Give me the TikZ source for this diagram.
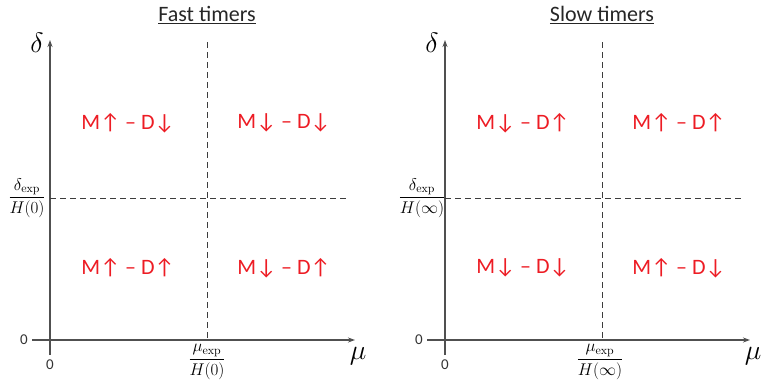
\RequirePackage{fix-cm}
\documentclass[tikz,border=0pt]{standalone}
\usepackage[no-math]{fontspec}
\setmainfont{Carlito}
\usetikzlibrary{arrows.meta}

\definecolor{axisgray}{RGB}{80,80,80}
\definecolor{guidegray}{RGB}{60,60,60}
\definecolor{zonered}{RGB}{237,28,36}

\tikzset{
  axis/.style={draw=axisgray, line width=1.2pt},
  axisarrow/.style={axis, -{Stealth[length=7pt,width=5pt]}},
  guide/.style={draw=guidegray, line width=0.9pt, dash pattern=on 6pt off 4pt},
  zone/.style={text=zonered, font=\fontsize{22}{26}\selectfont},
  ticklabel/.style={text=black!80, font=\fontsize{15}{18}\selectfont},
  fraclabel/.style={font=\fontsize{17}{20}\selectfont, inner sep=0pt},
  axislabel/.style={font=\fontsize{28}{32}\selectfont, inner sep=1pt},
  paneltitle/.style={text=black!85, font=\fontsize{22}{26}\selectfont}
}

\begin{document}
\begin{tikzpicture}[x=1pt, y=-1pt]
\useasboundingbox (0,0) rectangle (764,386);

% --- FAST TIMERS ---
  % axes
  \coordinate (f-yb) at (50,355);
  \coordinate (f-ytop) at (50,40);
  \coordinate (f-xl) at (32,340);
  \coordinate (f-xr) at (355,340);
  \draw[axisarrow] (f-yb) -- (f-ytop);
  \draw[axisarrow] (f-xl) -- (f-xr);
  \node[axislabel] (f-delta) at (37,43) {$\delta$};
  \node[axislabel] (f-mu) at (358,356) {$\mu$};
  \node[ticklabel] (f-zy) at (24,340) {0};
  \node[ticklabel] (f-zx) at (50,365) {0};

  % thresholds
  \coordinate (f-vt) at (207,42);
  \coordinate (f-vb) at (207,340);
  \coordinate (f-hl) at (50,198);
  \coordinate (f-hr) at (346,198);
  \draw[guide] (f-vt) -- (f-vb);
  \draw[guide] (f-hl) -- (f-hr);
  \node[fraclabel] (f-dexp) at (27,198) {$\displaystyle\frac{\delta_{\mathrm{exp}}}{H(0)}$};
  \node[fraclabel] (f-mexp) at (207,362) {$\displaystyle\frac{\mu_{\mathrm{exp}}}{H(0)}$};

  % regimes
  \node[paneltitle] (f-title) at (207,15) {\underline{Fast timers}};
  \node[zone] (f-q2) at (128,123) {M↑ – D↓};
  \node[zone] (f-q1) at (284,123) {M↓ – D↓};
  \node[zone] (f-q3) at (128,268) {M↑ – D↑};
  \node[zone] (f-q4) at (284,268) {M↓ – D↑};

% --- SLOW TIMERS ---
\begin{scope}[xshift=395pt]
  % axes
  \coordinate (s-yb) at (50,355);
  \coordinate (s-ytop) at (50,40);
  \coordinate (s-xl) at (32,340);
  \coordinate (s-xr) at (355,340);
  \draw[axisarrow] (s-yb) -- (s-ytop);
  \draw[axisarrow] (s-xl) -- (s-xr);
  \node[axislabel] (s-delta) at (37,43) {$\delta$};
  \node[axislabel] (s-mu) at (358,356) {$\mu$};
  \node[ticklabel] (s-zy) at (24,340) {0};
  \node[ticklabel] (s-zx) at (50,365) {0};

  % thresholds
  \coordinate (s-vt) at (207,42);
  \coordinate (s-vb) at (207,340);
  \coordinate (s-hl) at (50,198);
  \coordinate (s-hr) at (346,198);
  \draw[guide] (s-vt) -- (s-vb);
  \draw[guide] (s-hl) -- (s-hr);
  \node[fraclabel] (s-dexp) at (27,198) {$\displaystyle\frac{\delta_{\mathrm{exp}}}{H(\infty)}$};
  \node[fraclabel] (s-mexp) at (205,362) {$\displaystyle\frac{\mu_{\mathrm{exp}}}{H(\infty)}$};

  % regimes
  \node[paneltitle] (s-title) at (207,15) {\underline{Slow timers}};
  \node[zone] (s-q2) at (128,123) {M↓ – D↑};
  \node[zone] (s-q1) at (284,123) {M↑ – D↑};
  \node[zone] (s-q3) at (128,268) {M↓ – D↓};
  \node[zone] (s-q4) at (284,268) {M↑ – D↓};
\end{scope}
\end{tikzpicture}
\end{document}
